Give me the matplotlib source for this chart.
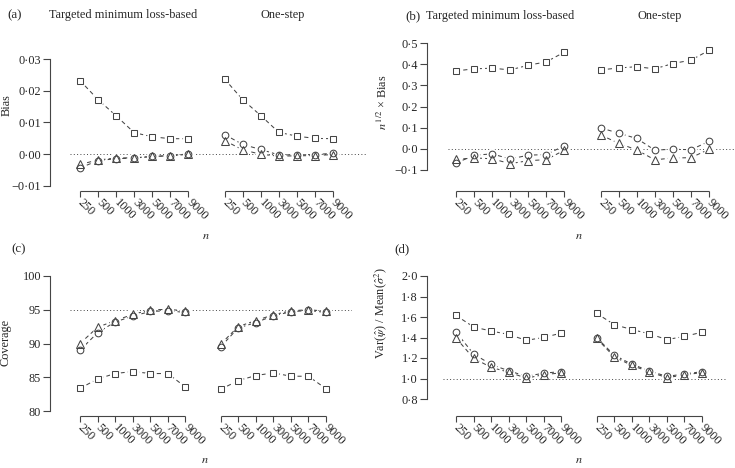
import matplotlib
matplotlib.use('Agg')
import matplotlib.pyplot as plt

# ---------------- data ----------------
n_labels = ['250', '500', '1000', '3000', '5000', '7000', '9000']

# (a) Bias
a_tmle_sq = [0.0232, 0.0172, 0.0121, 0.0068, 0.0055, 0.0049, 0.0049]
a_tmle_ci = [-0.0043, -0.0020, -0.0014, -0.0012, -0.0007, -0.0005, 0.0000]
a_tmle_tr = [-0.0032, -0.0018, -0.0012, -0.0011, -0.0007, -0.0004, 0.0001]
a_os_sq = [0.0237, 0.0172, 0.0122, 0.0069, 0.0057, 0.0050, 0.0049]
a_os_ci = [0.0062, 0.0031, 0.0015, -0.0002, -0.0002, -0.0001, 0.0003]
a_os_tr = [0.0043, 0.0014, 0.0000, -0.0006, -0.0005, -0.0004, -0.0001]

# (b) n^{1/2} x Bias
b_tmle_sq = [0.368, 0.378, 0.381, 0.373, 0.395, 0.411, 0.457]
b_tmle_ci = [-0.068, -0.030, -0.024, -0.048, -0.030, -0.027, 0.015]
b_tmle_tr = [-0.050, -0.043, -0.047, -0.070, -0.056, -0.051, -0.006]
b_os_sq = [0.373, 0.382, 0.388, 0.378, 0.403, 0.419, 0.465]
b_os_ci = [0.099, 0.074, 0.049, -0.006, -0.002, -0.004, 0.035]
b_os_tr = [0.066, 0.026, -0.005, -0.052, -0.043, -0.042, -0.002]

# (c) Coverage
c_tmle_sq = [83.35, 84.75, 85.55, 85.85, 85.55, 85.55, 83.55]
c_tmle_ci = [89.0, 91.6, 93.2, 94.05, 94.75, 94.85, 94.6]
c_tmle_tr = [90.0, 92.4, 93.4, 94.3, 95.0, 95.05, 94.85]
c_os_sq = [83.2, 84.5, 85.25, 85.65, 85.15, 85.15, 83.3]
c_os_ci = [89.5, 92.3, 93.1, 94.1, 94.7, 94.9, 94.6]
c_os_tr = [89.9, 92.5, 93.4, 94.25, 94.85, 95.0, 94.8]

# (d) Var / Mean(sigma^2)
d_tmle_sq = [1.615, 1.503, 1.463, 1.430, 1.372, 1.401, 1.443]
d_tmle_ci = [1.452, 1.240, 1.137, 1.075, 1.022, 1.052, 1.068]
d_tmle_tr = [1.395, 1.198, 1.108, 1.062, 1.003, 1.038, 1.055]
d_os_sq = [1.636, 1.526, 1.478, 1.436, 1.380, 1.410, 1.452]
d_os_ci = [1.400, 1.228, 1.140, 1.075, 1.020, 1.045, 1.066]
d_os_tr = [1.392, 1.212, 1.128, 1.065, 1.008, 1.035, 1.058]

a_yticks = [-0.01, 0.00, 0.01, 0.02, 0.03]
a_ylabels = ['\u22120\u00b701', '0\u00b700', '0\u00b701', '0\u00b702', '0\u00b703']
b_yticks = [-0.1, 0.0, 0.1, 0.2, 0.3, 0.4, 0.5]
b_ylabels = ['\u22120\u00b71', '0\u00b70', '0\u00b71', '0\u00b72', '0\u00b73', '0\u00b74', '0\u00b75']
c_yticks = [80, 85, 90, 95, 100]
c_ylabels = ['80', '85', '90', '95', '100']
d_yticks = [0.8, 1.0, 1.2, 1.4, 1.6, 1.8, 2.0]
d_ylabels = ['0\u00b78', '1\u00b70', '1\u00b72', '1\u00b74', '1\u00b76', '1\u00b78', '2\u00b70']

group_titles = ['Targeted minimum loss-based', 'One-step']

# ---------------- style ----------------
plt.rcParams['font.family'] = ['Liberation Serif', 'DejaVu Serif']
plt.rcParams['mathtext.fontset'] = 'stix'
TXT = '#262626'
LN = '#454545'
FS = 8.8
W, H = 735, 468
PT = 0.72  # points per pixel

fig = plt.figure(figsize=(W / 100, H / 100), dpi=100)

x_left = [1, 2, 3, 4, 5, 6, 7]
x_right = [9, 10, 11, 12, 13, 14, 15]


def panel(series, yticks, ylabels, ref, lay):
    x1, x15, ytop, ybot, spx, xay, dl, dr = lay
    sc = (x15 - x1) / 14.0
    xl = 1 + (dl - x1) / sc
    xr = 1 + (dr - x1) / sc
    ax = fig.add_axes([dl / W, 1 - ybot / H, (dr - dl) / W, (ybot - ytop) / H])
    ax.set_xlim(xl, xr)
    ax.set_ylim(yticks[0], yticks[-1])
    ax.patch.set_visible(False)
    for s in ['top', 'right']:
        ax.spines[s].set_visible(False)
    ax.spines['left'].set_position(('outward', (dl - spx) * PT))
    ax.spines['left'].set_bounds(yticks[0], yticks[-1])
    ax.spines['left'].set_color(LN)
    ax.spines['left'].set_linewidth(0.8)
    ax.spines['bottom'].set_position(('outward', (xay - ybot) * PT))
    ax.spines['bottom'].set_visible(False)
    ax.set_yticks(yticks)
    ax.set_yticklabels(ylabels)
    ax.tick_params(axis='y', length=7 * PT, width=0.8, color=LN, pad=1.5,
                   labelsize=FS, labelcolor=TXT)
    ax.set_xticks(x_left + x_right)
    ax.set_xticklabels(n_labels + n_labels)
    ax.tick_params(axis='x', length=6 * PT, width=0.8, color=LN, pad=2.5,
                   labelsize=FS, labelcolor=TXT)
    for lbl in ax.get_xticklabels():
        lbl.set_rotation(-45)
        lbl.set_ha('left')
        lbl.set_va('center')
        lbl.set_rotation_mode('anchor')
    tr = ax.get_xaxis_transform(which='tick1')
    for xs in (x_left, x_right):
        ax.plot([xs[0], xs[-1]], [0, 0], transform=tr, color=LN, lw=0.8,
                clip_on=False, solid_capstyle='butt')
    # reference line
    ax.axhline(ref, color=LN, lw=0.7, ls=(0, (1, 2.4)), zorder=1)
    # series
    markers = ['s', 'o', '^']
    msz = {'s': 4.2, 'o': 4.8, '^': 5.2}
    for (left_vals, right_vals), mk in zip(series, markers):
        for xs, ys in ((x_left, left_vals), (x_right, right_vals)):
            ax.plot(xs, ys, color=LN, lw=0.75, ls=(0, (4, 3)), zorder=2,
                    clip_on=False)
    for (left_vals, right_vals), mk in zip(series, markers):
        for xs, ys in ((x_left, left_vals), (x_right, right_vals)):
            ax.plot(xs, ys, ls='none', marker='o', ms=8.0, mfc='white',
                    mec='none', zorder=3, clip_on=False)
    for (left_vals, right_vals), mk in zip(series, markers):
        for xs, ys in ((x_left, left_vals), (x_right, right_vals)):
            ax.plot(xs, ys, ls='none', marker=mk, ms=msz[mk], mfc='none',
                    mec=LN, mew=0.75, zorder=4, clip_on=False)
    return ax


lay_a = (80, 333, 59, 186, 50, 191, 70, 368)
lay_b = (456, 709, 43, 170, 427, 191, 448, 735)
lay_c = (80, 326, 276, 411, 50, 416, 70, 352)
lay_d = (456, 702, 276, 399, 427, 416, 443, 726)

panel([(a_tmle_sq, a_os_sq), (a_tmle_ci, a_os_ci), (a_tmle_tr, a_os_tr)],
      a_yticks, a_ylabels, 0.0, lay_a)
panel([(b_tmle_sq, b_os_sq), (b_tmle_ci, b_os_ci), (b_tmle_tr, b_os_tr)],
      b_yticks, b_ylabels, 0.0, lay_b)
panel([(c_tmle_sq, c_os_sq), (c_tmle_ci, c_os_ci), (c_tmle_tr, c_os_tr)],
      c_yticks, c_ylabels, 95, lay_c)
panel([(d_tmle_sq, d_os_sq), (d_tmle_ci, d_os_ci), (d_tmle_tr, d_os_tr)],
      d_yticks, d_ylabels, 1.0, lay_d)


def ftext(px, py, s, **kw):
    kw.setdefault('fontsize', FS)
    kw.setdefault('color', TXT)
    kw.setdefault('ha', 'center')
    kw.setdefault('va', 'center')
    fig.text(px / W, 1 - py / H, s, **kw)


# panel letters and group titles
ftext(15, 15, '(a)', fontsize=FS + 0.5)
ftext(123, 15, group_titles[0])
ftext(283, 15, group_titles[1])
ftext(413, 16, '(b)', fontsize=FS + 0.5)
ftext(500, 16, group_titles[0])
ftext(660, 16, group_titles[1])
ftext(19, 249, '(c)', fontsize=FS + 0.5)
ftext(402, 249, '(d)', fontsize=FS + 0.5)

# y labels
ftext(7, 105, 'Bias', rotation=90)
ftext(383, 102, '$n^{\\,1/2}$ \u00d7 Bias', rotation=90)
ftext(6, 342, 'Coverage', rotation=90)
ftext(381, 313, r'Var($\hat{\psi}$) / Mean($\hat{\sigma}^2$)', rotation=90)

# x labels
for px, py in [(206, 236), (579, 236), (205, 460), (579, 460)]:
    ftext(px, py, r'$n$')

fig.savefig('out.png', dpi=100)
